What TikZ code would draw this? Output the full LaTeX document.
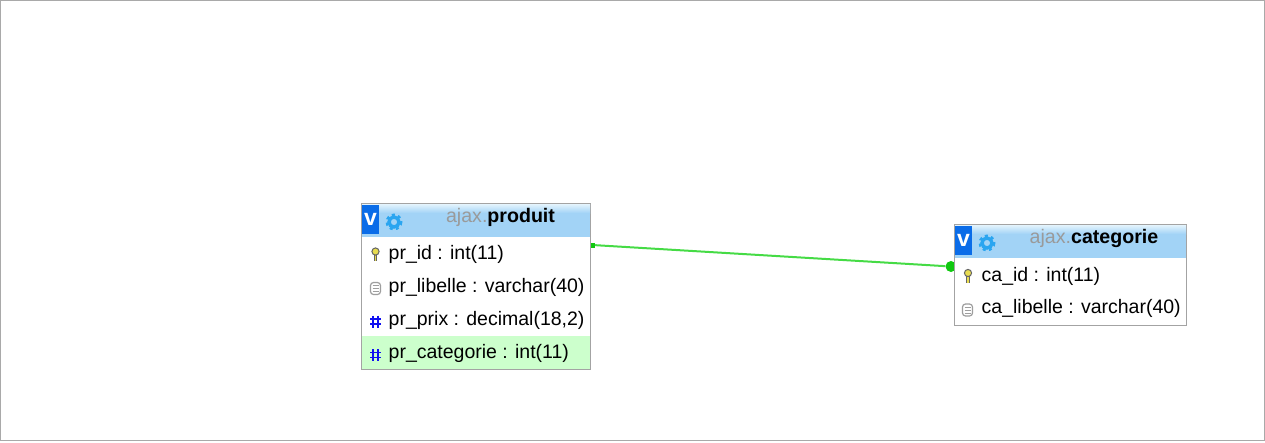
\documentclass[tikz,border=0pt]{standalone}
\usepackage{fontspec}
\setmainfont{Liberation Sans}
\definecolor{framegray}{HTML}{A9A9A9}
\definecolor{tablegray}{HTML}{A3A3A3}
\definecolor{headblue}{HTML}{A2D3F6}
\definecolor{headtop}{HTML}{E4F4FD}
\definecolor{fkgreen}{HTML}{CCFFCC}
\definecolor{relgreen}{HTML}{45DB45}
\definecolor{dotgreen}{HTML}{10C810}
\definecolor{vblue}{HTML}{0A6CE8}
\definecolor{gearblue}{HTML}{2AA5F0}
\definecolor{titlegray}{HTML}{9A9A9A}
\definecolor{keyyellow}{HTML}{E8DC50}
\definecolor{numblue}{HTML}{1010F0}
\tikzset{
  tablebox/.style={draw=tablegray, fill=white, line width=1pt, inner sep=0pt},
  headbox/.style={fill=headblue, inner sep=0pt, minimum height=33pt},
  rowtext/.style={anchor=west, inner sep=0pt, font=\fontsize{19.5}{21}\selectfont},
  titletext/.style={inner sep=0pt, font=\fontsize{19.6}{21}\selectfont},
  vicon/.style={fill=vblue, text=white, inner sep=0pt, minimum width=17pt, minimum height=29pt, font=\fontsize{23}{23}\selectfont\bfseries},
  numline/.style={draw=numblue, line width=1.9pt},
  fkend/.style={fill=dotgreen, inner sep=0pt, minimum size=5pt},
  pkend/.style={circle, fill=dotgreen, inner sep=0pt, minimum size=11pt},
  relline/.style={draw=relgreen, line width=2pt},
  gearring/.style={draw=gearblue, line width=3.4pt},
  gearteeth/.style={draw=gearblue, line width=2.4pt, dash pattern=on 3pt off 3.3pt},
  keybow/.style={draw=black!60, fill=keyyellow, line width=1pt},
  keyshaft/.style={draw=black!60, line width=3.2pt},
  keycore/.style={draw=keyyellow, line width=1.4pt},
  docicon/.style={draw=black!38, fill=white, line width=1.2pt, rounded corners=3pt},
  docline/.style={draw=black!38, line width=0.9pt}
}
\begin{document}
\begin{tikzpicture}[x=1pt, y=-1pt]
\useasboundingbox (0, 0) rectangle (1265, 442);
\draw [framegray, line width=1pt] (0.5, 0.5) rectangle (1264.5, 440.5);
% relation
\node [fkend] (fksource) at (592.5, 245) {};
\node [pkend] (pktarget) at (951, 266.5) {};
\draw [relline] (fksource) -- (pktarget);
% produit
\node [tablebox, minimum width=229pt, minimum height=166pt] (produit) at (476, 286.5) {};
\node [headbox, minimum width=228pt] (produithead) at (476, 220.5) {};
\shade [top color=headtop, bottom color=headblue] (362, 204) rectangle (590, 213);
\node [anchor=north west, inner sep=0pt, minimum width=228pt, minimum height=33pt, fill=fkgreen] (prcategorierow) at (362, 336) {};
\draw [tablegray, line width=1pt] (361.5, 369.5) -- (590.5, 369.5);
\node [vicon] (produitv) at (370.5, 219.5) {v};
\draw [gearteeth] (394, 222) circle (7.2);
\draw [gearring] (394, 222) circle (5);
\node [titletext] (produittitle) at (500.5, 217) {\textcolor{titlegray}{ajax.}\textbf{produit}};
\node [rowtext] (prid) at (388.5, 254) {pr\_id : int(11)};
\node [rowtext] (prlibelle) at (388.5, 287) {pr\_libelle : varchar(40)};
\node [rowtext] (prprix) at (388.5, 320.5) {pr\_prix : decimal(18,2)};
\node [rowtext] (prcategorie) at (388.5, 353.5) {pr\_categorie : int(11)};
\draw [keyshaft] (375.5, 253) -- (375.5, 261);
\draw [keycore] (375.5, 253) -- (375.5, 261);
\draw [keybow] (375.5, 251.5) circle (3.6);
\draw [docicon] (370.5, 282.5) rectangle (380.5, 294.5);
\draw [docline] (372.5, 285.5) -- (378.5, 285.5);
\draw [docline] (372.5, 288.5) -- (378.5, 288.5);
\draw [docline] (372.5, 291.5) -- (378.5, 291.5);
\draw [numline] (373, 315.5) -- (373, 327.5);
\draw [numline] (378, 315.5) -- (378, 327.5);
\draw [numline] (370, 319) -- (381, 319);
\draw [numline] (370, 324) -- (381, 324);
\draw [numline] (373, 349) -- (373, 361);
\draw [numline] (378, 349) -- (378, 361);
\draw [numline] (370, 352.5) -- (381, 352.5);
\draw [numline] (370, 357.5) -- (381, 357.5);
% categorie
\node [tablebox, minimum width=232pt, minimum height=101pt] (categorie) at (1070.5, 275) {};
\node [headbox, minimum width=231pt] (categoriehead) at (1070.5, 241.5) {};
\shade [top color=headtop, bottom color=headblue] (955, 225) rectangle (1186, 234);
\node [vicon] (categoriev) at (963.5, 240.5) {v};
\draw [gearteeth] (987, 243) circle (7.2);
\draw [gearring] (987, 243) circle (5);
\node [titletext] (categorietitle) at (1094, 238) {\textcolor{titlegray}{ajax.}\textbf{categorie}};
\node [rowtext] (caid) at (981.5, 276) {ca\_id : int(11)};
\node [rowtext] (calibelle) at (981.5, 308.5) {ca\_libelle : varchar(40)};
\draw [keyshaft] (968, 274.5) -- (968, 282.5);
\draw [keycore] (968, 274.5) -- (968, 282.5);
\draw [keybow] (968, 273) circle (3.6);
\draw [docicon] (962.5, 304) rectangle (972.5, 316);
\draw [docline] (964.5, 307) -- (970.5, 307);
\draw [docline] (964.5, 310) -- (970.5, 310);
\draw [docline] (964.5, 313) -- (970.5, 313);
\end{tikzpicture}
\end{document}
